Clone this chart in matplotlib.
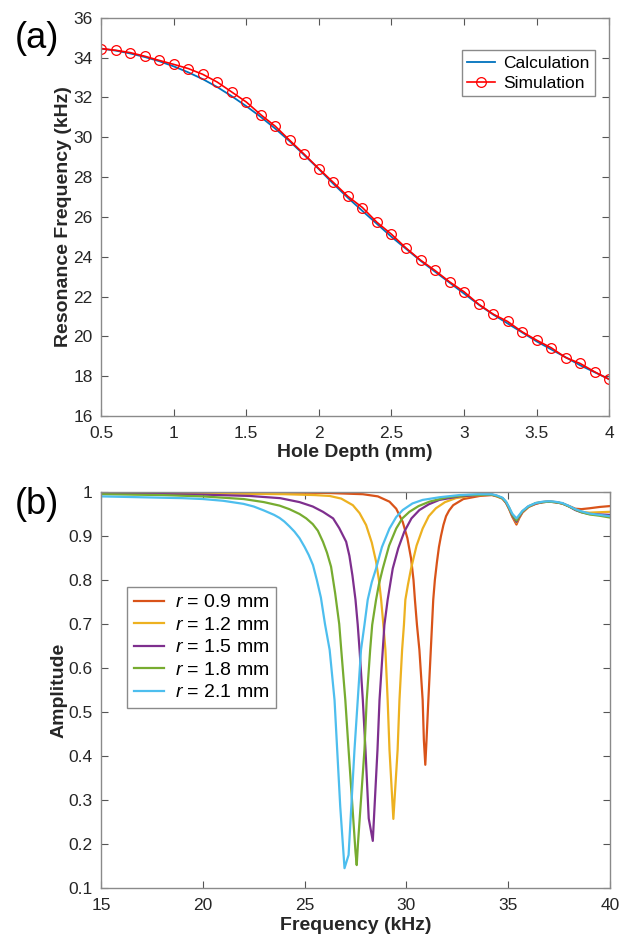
import numpy as np
import matplotlib
matplotlib.use("Agg")
import matplotlib.pyplot as plt
from matplotlib.ticker import FormatStrFormatter

plt.rcParams['font.family'] = ['Liberation Sans', 'DejaVu Sans']
plt.rcParams['mathtext.fontset'] = 'custom'
plt.rcParams['mathtext.rm'] = 'Liberation Sans'
plt.rcParams['mathtext.it'] = 'Liberation Sans:italic'

# ---- panel (a) data
depth = [0.5, 0.6, 0.7, 0.8, 0.9, 1.0, 1.1, 1.2, 1.3, 1.4, 1.5, 1.6, 1.7, 1.8,
         1.9, 2.0, 2.1, 2.2, 2.3, 2.4, 2.5, 2.6, 2.7, 2.8, 2.9, 3.0, 3.1, 3.2,
         3.3, 3.4, 3.5, 3.6, 3.7, 3.8, 3.9, 4.0]
calc = [34.45, 34.35, 34.21, 34.03, 33.82, 33.56, 33.26, 32.92, 32.52, 32.06, 31.56,
        31.02, 30.43, 29.79, 29.1, 28.4, 27.66, 26.96, 26.3, 25.65, 25.0, 24.4,
        23.8, 23.25, 22.7, 22.15, 21.6, 21.1, 20.65, 20.2, 19.75, 19.35, 18.95,
        18.55, 18.2, 17.85]
sim = [34.45, 34.37, 34.25, 34.07, 33.86, 33.66, 33.45, 33.16, 32.77, 32.27,
       31.77, 31.13, 30.55, 29.84, 29.14, 28.42, 27.73, 27.03, 26.47, 25.73,
       25.13, 24.44, 23.83, 23.31, 22.74, 22.24, 21.62, 21.12, 20.75, 20.23,
       19.81, 19.43, 18.94, 18.64, 18.22, 17.84]

# ---- panel (b) data
f_09 = [15, 22, 26, 27.86, 28.6, 29.17, 29.5, 29.82, 30.05, 30.23, 30.35, 30.42,
        30.52, 30.64, 30.8, 30.86, 30.93, 30.99, 31.08, 31.2, 31.32, 31.4, 31.5,
        31.6, 31.7, 31.82, 31.95, 32.1, 32.3, 32.8, 33.6, 34.2,
        34.45, 34.72, 34.9, 35.05, 35.2, 35.41, 35.55, 35.7, 36.0, 36.36, 36.7,
        37.0, 37.3, 37.66, 38.0, 38.3, 38.6, 39.0, 39.5, 40]
a_09 = [0.999, 0.999, 0.998, 0.995, 0.990, 0.978, 0.962, 0.932, 0.895, 0.849,
        0.80, 0.755, 0.698, 0.641, 0.527, 0.436, 0.38, 0.436, 0.527, 0.641,
        0.755, 0.80, 0.84, 0.875, 0.90, 0.925, 0.945, 0.958, 0.97, 0.984, 0.991,
        0.993,
        0.990, 0.985, 0.975, 0.961, 0.944, 0.926, 0.941, 0.953, 0.966, 0.973,
        0.977, 0.978, 0.977, 0.974, 0.968, 0.962, 0.961, 0.963, 0.966, 0.968]

f_12 = [15, 20, 24, 25.5, 26.23, 26.8, 27.37, 27.7, 28.02, 28.3, 28.51, 28.65,
        28.76, 28.87, 28.97, 29.08, 29.17, 29.36, 29.57, 29.66, 29.79, 29.88,
        29.95, 30.08, 30.23, 30.5, 30.8, 31.1, 31.45, 31.9, 32.43, 33.3, 34.2,
        34.45, 34.72, 34.9, 35.05, 35.2, 35.41, 35.55, 35.7, 36.0, 36.36, 36.7,
        37.0, 37.3, 37.66, 38.0, 38.3, 38.6, 39.0, 39.5, 40]
a_12 = [0.998, 0.997, 0.995, 0.993, 0.991, 0.985, 0.970, 0.952, 0.925, 0.885,
        0.842, 0.80, 0.755, 0.698, 0.641, 0.527, 0.414, 0.257, 0.414, 0.527,
        0.641, 0.698, 0.755, 0.79, 0.826, 0.878, 0.917, 0.945, 0.963, 0.977,
        0.986, 0.992, 0.994,
        0.990, 0.985, 0.976, 0.962, 0.946, 0.930, 0.943, 0.954, 0.966, 0.974,
        0.977, 0.978, 0.977, 0.974, 0.967, 0.960, 0.955, 0.953, 0.954, 0.955]

f_15 = [15, 20, 22.3, 23.8, 24.75, 25.4, 25.9, 26.4, 26.7, 27.04, 27.2, 27.35,
        27.5, 27.61, 27.7, 27.86, 27.99, 28.15, 28.35, 28.58, 28.68, 28.84, 28.92,
        29.08, 29.33, 29.6, 29.9, 30.25, 30.64, 31.1, 31.62, 32.6, 33.5, 34.2,
        34.45, 34.72, 34.9, 35.05, 35.2, 35.41, 35.55, 35.7, 36.0, 36.36, 36.7,
        37.0, 37.3, 37.66, 38.0, 38.3, 38.6, 39.0, 39.5, 40]
a_15 = [0.997, 0.994, 0.991, 0.986, 0.977, 0.967, 0.955, 0.940, 0.918, 0.887,
        0.855, 0.81, 0.755, 0.698, 0.641, 0.527, 0.414, 0.258, 0.207, 0.414,
        0.527, 0.641, 0.698, 0.755, 0.826, 0.872, 0.91, 0.940, 0.959, 0.972,
        0.982, 0.990, 0.993, 0.994,
        0.991, 0.986, 0.976, 0.963, 0.947, 0.932, 0.944, 0.955, 0.967, 0.974,
        0.977, 0.978, 0.977, 0.974, 0.967, 0.959, 0.954, 0.950, 0.949, 0.948]

f_18 = [15, 18, 20, 22, 23, 23.77, 24.25, 24.75, 25.08, 25.4, 25.65, 25.9, 26.1,
        26.3, 26.5, 26.7, 26.8, 27.0, 27.16, 27.5, 27.56, 27.62, 27.94, 28.05,
        28.22, 28.32, 28.51, 28.65, 28.84, 29.15, 29.5, 29.8, 30.15, 30.6, 31.13,
        32.0, 33.0, 34.2,
        34.45, 34.72, 34.9, 35.05, 35.2, 35.41, 35.55, 35.7, 36.0, 36.36, 36.7,
        37.0, 37.3, 37.66, 38.0, 38.3, 38.6, 39.0, 39.5, 40]
a_18 = [0.995, 0.993, 0.990, 0.984, 0.977, 0.969, 0.961, 0.950, 0.940, 0.927,
        0.912, 0.887, 0.862, 0.83, 0.77, 0.70, 0.641, 0.527, 0.414, 0.182, 0.152,
        0.20, 0.414, 0.527, 0.641, 0.698, 0.755, 0.79, 0.826, 0.878, 0.917, 0.940,
        0.955, 0.968, 0.978, 0.988, 0.993, 0.994,
        0.991, 0.986, 0.977, 0.964, 0.949, 0.935, 0.946, 0.956, 0.967, 0.975,
        0.977, 0.978, 0.977, 0.974, 0.967, 0.960, 0.954, 0.949, 0.946, 0.942]

f_21 = [15, 17, 19, 20, 21, 22, 22.5, 23, 23.5, 23.77, 24.0, 24.25, 24.5, 24.75,
        25.0, 25.2, 25.41, 25.6, 25.8, 26.0, 26.23, 26.47, 26.6, 26.75, 26.96,
        27.16, 27.45, 27.61, 27.77, 27.94, 28.1, 28.3, 28.51, 28.8, 29.17, 29.5,
        29.82, 30.3, 30.8, 31.62, 32.6, 33.5, 34.2,
        34.45, 34.72, 34.9, 35.05, 35.2, 35.41, 35.55, 35.7, 36.0, 36.36, 36.7,
        37.0, 37.3, 37.66, 38.0, 38.3, 38.6, 39.0, 39.5, 40]
a_21 = [0.990, 0.988, 0.986, 0.984, 0.980, 0.973, 0.967, 0.958, 0.948, 0.941,
        0.933, 0.922, 0.910, 0.895, 0.875, 0.857, 0.834, 0.80, 0.76, 0.70, 0.641,
        0.527, 0.414, 0.285, 0.145, 0.175, 0.414, 0.527, 0.641, 0.698, 0.755,
        0.795, 0.826, 0.875, 0.917, 0.943, 0.959, 0.974, 0.982, 0.988, 0.993,
        0.995, 0.995,
        0.992, 0.987, 0.978, 0.965, 0.951, 0.940, 0.948, 0.957, 0.968, 0.975,
        0.978, 0.979, 0.978, 0.975, 0.968, 0.961, 0.956, 0.951, 0.948, 0.945]

curves = [(f_09, a_09, '0.9', '#D95319'),
          (f_12, a_12, '1.2', '#EDB120'),
          (f_15, a_15, '1.5', '#7E2F8E'),
          (f_18, a_18, '1.8', '#77AC30'),
          (f_21, a_21, '2.1', '#4DBEEE')]

fig = plt.figure(figsize=(6.32, 9.35), dpi=100)
ax1 = fig.add_axes([0.160, 0.555, 0.804, 0.426])
ax2 = fig.add_axes([0.160, 0.0503, 0.805, 0.4235])

spine_col = '#8a8a8a'
txt_col = '#262626'

def style(ax):
    for s in ax.spines.values():
        s.set_color(spine_col)
        s.set_linewidth(1.0)
    ax.tick_params(direction='in', length=5, width=0.8, color='#555555',
                   labelcolor=txt_col, labelsize=12.5, top=True, right=True)
    ax.tick_params(axis='x', pad=7)
    ax.tick_params(axis='y', pad=6)

# (a)
ax1.plot(depth, calc, color='#0072BD', lw=1.3, label='Calculation')
ax1.plot(depth, sim, color='#FF0000', lw=1.2, marker='o', ms=7, mfc='none',
         mec='#FF0000', mew=0.9, label='Simulation')
ax1.set_xlim(0.5, 4)
ax1.set_ylim(16, 36)
ax1.set_xticks(np.arange(0.5, 4.01, 0.5))
ax1.set_yticks(np.arange(16, 36.1, 2))
ax1.xaxis.set_major_formatter(FormatStrFormatter('%g'))
style(ax1)
ax1.set_xlabel('Hole Depth (mm)', fontsize=14, fontweight='bold', color=txt_col, labelpad=2)
ax1.set_ylabel('Resonance Frequency (kHz)', fontsize=14, fontweight='bold', color=txt_col, labelpad=1)
leg1 = ax1.legend(loc='upper right', bbox_to_anchor=(0.972, 0.918), borderaxespad=0,
                  fancybox=False, framealpha=1, edgecolor='#8a8a8a', fontsize=12.5,
                  handlelength=1.6, handletextpad=0.5, borderpad=0.3, labelspacing=0.3)
leg1.get_frame().set_linewidth(1.0)
fig.text(0.058, 0.959, '(a)', fontsize=26, ha='center', va='center')

# (b)
for f, a, r, c in curves:
    ax2.plot(f, a, color=c, lw=1.6, label='$r$ = %s mm' % r)
ax2.set_xlim(15, 40)
ax2.set_ylim(0.1, 1)
ax2.set_xticks(np.arange(15, 41, 5))
ax2.set_yticks(np.arange(0.1, 1.01, 0.1))
ax2.yaxis.set_major_formatter(FormatStrFormatter('%g'))
style(ax2)
ax2.set_xlabel('Frequency (kHz)', fontsize=14, fontweight='bold', color=txt_col, labelpad=3)
ax2.set_ylabel('Amplitude', fontsize=14, fontweight='bold', color=txt_col, labelpad=1)
leg2 = ax2.legend(loc='upper left', bbox_to_anchor=(0.051, 0.760), borderaxespad=0,
                  fancybox=False, framealpha=1, edgecolor='#8a8a8a', fontsize=14,
                  handlelength=1.55, handletextpad=0.55, borderpad=0.35, labelspacing=0.25)
leg2.get_frame().set_linewidth(1.0)
fig.text(0.058, 0.460, '(b)', fontsize=26, ha='center', va='center')

fig.savefig('out.png', dpi=100)
